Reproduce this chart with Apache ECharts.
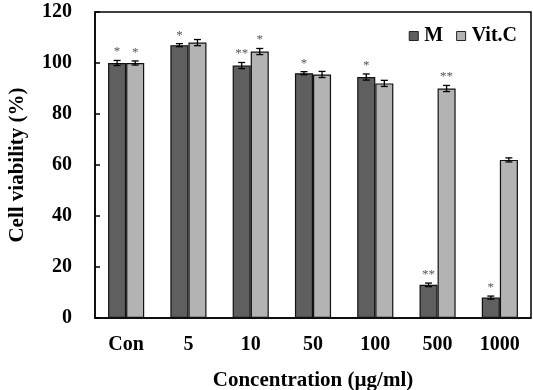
<!DOCTYPE html>
<html>
<head>
<meta charset="utf-8">
<script src="https://cdn.jsdelivr.net/npm/echarts@6/dist/echarts.min.js"></script>
<style>html,body{margin:0;padding:0;background:#fff}#c{width:533px;height:390px}</style>
</head>
<body>
<div id="c"></div>
<script>
var categories = ['Con', '5', '10', '50', '100', '500', '1000'];
var mValues = [100, 107, 99, 96, 94.5, 13, 8];
var mErr = [1, 0.6, 1.2, 0.6, 1.2, 0.7, 0.6];
var mSig = ['*', '*', '**', '*', '*', '**', '*'];
var vitValues = [100, 108, 104.5, 95.5, 92, 90, 62];
var vitErr = [0.8, 1.2, 1.2, 1.2, 1.2, 1.2, 0.8];
var vitSig = ['*', '', '*', '', '', '**', ''];
var yTicks = [0, 20, 40, 60, 80, 100, 120];

var FONT = 'Liberation Serif';
var BAR_FRAC = 0.29;

function errData(vals, errs, sigs) {
  return vals.map(function (v, i) { return [i, v, errs[i], sigs[i]]; });
}
function makeRender(side) {
  return function (params, api) {
    var idx = api.value(0), v = api.value(1), e = api.value(2);
    var sig = (side < 0 ? mSig : vitSig)[idx];
    var band = api.size([1, 0])[0];
    var bw = band * BAR_FRAC;
    var c = api.coord([idx, v]);
    var x = c[0] + side * bw / 2;
    var top = api.coord([idx, v + e])[1];
    var bot = api.coord([idx, v - e])[1];
    var cap = 3.5;
    var st = { stroke: '#000', lineWidth: 1.3 };
    var children = [
      { type: 'line', shape: { x1: x, y1: top, x2: x, y2: bot }, style: st },
      { type: 'line', shape: { x1: x - cap, y1: top, x2: x + cap, y2: top }, style: st },
      { type: 'line', shape: { x1: x - cap, y1: bot, x2: x + cap, y2: bot }, style: st }
    ];
    if (sig) {
      children.push({
        type: 'text',
        style: { text: sig, x: x, y: top - 2, textAlign: 'center', textVerticalAlign: 'bottom',
                 font: '13px ' + FONT, fill: '#555' }
      });
    }
    return { type: 'group', children: children };
  };
}

var chart = echarts.init(document.getElementById('c'), null, { renderer: 'canvas' });
chart.setOption({
  animation: false,
  grid: { left: 95, right: 2, top: 12, bottom: 72, show: true, borderColor: '#000', borderWidth: 1.5,
          backgroundColor: 'transparent', containLabel: false, outerBoundsMode: 'none' },
  legend: {
    right: 11, top: 21, itemWidth: 9, itemHeight: 9, itemGap: 13, icon: 'rect',
    textStyle: { fontFamily: FONT, fontWeight: 'bold', fontSize: 20, color: '#000', padding: [0, 0, 0, 1] },
    data: [
      { name: 'M', itemStyle: { color: '#5f5f5f', borderColor: '#222', borderWidth: 1 } },
      { name: 'Vit.C', itemStyle: { color: '#b3b3b3', borderColor: '#222', borderWidth: 1 } }
    ]
  },
  xAxis: {
    type: 'category', data: categories,
    name: 'Concentration (µg/ml)', nameLocation: 'middle', nameGap: 52,
    nameTextStyle: { fontFamily: FONT, fontWeight: 'bold', fontSize: 21, color: '#000' },
    axisLine: { lineStyle: { color: '#000', width: 1.5 } },
    axisTick: { inside: true, length: 5, lineStyle: { color: '#000', width: 1.5 } },
    axisLabel: { fontFamily: FONT, fontWeight: 'bold', fontSize: 20, color: '#000', margin: 17 }
  },
  yAxis: {
    type: 'value', min: 0, max: 120, interval: 20,
    name: 'Cell viability (%)', nameLocation: 'middle', nameGap: 67,
    nameTextStyle: { fontFamily: FONT, fontWeight: 'bold', fontSize: 21, color: '#000' },
    axisLine: { show: true, lineStyle: { color: '#000', width: 1.5 } },
    axisTick: { show: true, inside: true, length: 5, lineStyle: { color: '#000', width: 1.5 } },
    splitLine: { show: false },
    axisLabel: { fontFamily: FONT, fontWeight: 'bold', fontSize: 20, color: '#000', margin: 23,
      formatter: function (v) { return yTicks.indexOf(v) >= 0 ? String(v) : ''; } }
  },
  series: [
    { name: 'M', type: 'bar', data: mValues, barWidth: (BAR_FRAC * 100) + '%', barGap: '0%',
      itemStyle: { color: '#5f5f5f', borderColor: '#111', borderWidth: 1.2 } },
    { name: 'Vit.C', type: 'bar', data: vitValues, barWidth: (BAR_FRAC * 100) + '%', barGap: '0%',
      itemStyle: { color: '#b3b3b3', borderColor: '#111', borderWidth: 1.2 } },
    { type: 'custom', data: errData(mValues, mErr, mSig), renderItem: makeRender(-1), z: 10, silent: true },
    { type: 'custom', data: errData(vitValues, vitErr, vitSig), renderItem: makeRender(1), z: 10, silent: true }
  ]
});
</script>
</body>
</html>
